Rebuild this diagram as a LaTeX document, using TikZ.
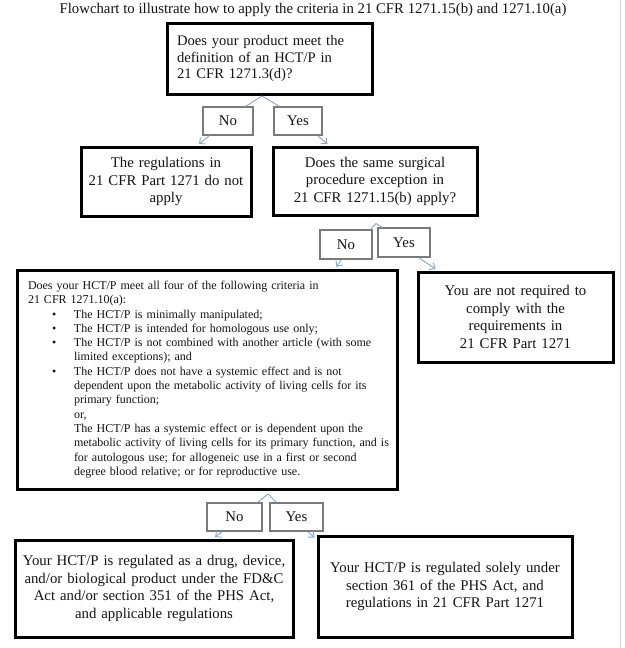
\documentclass[tikz,border=0pt]{standalone}
\usepackage{fontspec}
\setmainfont{Liberation Serif}
\usetikzlibrary{arrows.meta,calc}
\definecolor{conncol}{HTML}{86A4D6}
\definecolor{lblcol}{HTML}{7A7A7A}
\definecolor{txtcol}{HTML}{141414}
\definecolor{edgecol}{HTML}{D4D4D4}
\begin{document}
\begin{tikzpicture}[x=1pt,y=-1pt,
  mainbox/.style={draw=black, line width=3pt, fill=white, inner sep=0pt, text=txtcol,
    font=\fontsize{14.8}{17.5}\selectfont},
  lbl/.style={draw=lblcol, line width=1.1pt, fill=white, inner sep=0pt, text=txtcol,
    font=\fontsize{14.8}{17}\selectfont},
  conn/.style={draw=conncol, line width=0.9pt},
  arr/.style={conn, -{Straight Barb[length=4.5pt,width=8pt]}}]
\useasboundingbox (0,0) rectangle (624,648);
\fill[white] (0,0) rectangle (624,648);
\draw[edgecol, line width=0.8pt] (620.5,0) -- (620.5,648);

\node[text=txtcol, font=\fontsize{14.8}{17}\selectfont] (title) at (313,10)
  {Flowchart to illustrate how to apply the criteria in 21 CFR 1271.15(b) and 1271.10(a)};

\node[mainbox, minimum width=205, minimum height=71, text width=185, align=left,
  font=\fontsize{14.6}{16.5}\selectfont] (b1) at (269.5,58.5)
  {Does your product meet the\\definition of an HCT/P in\\21 CFR 1271.3(d)?};

\node[lbl, minimum width=50, minimum height=28] (no1) at (228,121) {No};
\node[lbl, minimum width=48, minimum height=28] (yes1) at (298,121) {Yes};

\node[mainbox, minimum width=170, minimum height=69, text width=165, align=center] (b2) at (166,181.5)
  {The regulations in\\21 CFR Part 1271 do not\\apply};
\node[mainbox, minimum width=204, minimum height=68, text width=198, align=center] (b3) at (375,181)
  {Does the same surgical\\procedure exception in\\21 CFR 1271.15(b) apply?};

\node[lbl, minimum width=52, minimum height=29] (no2) at (346,244.5) {No};
\node[lbl, minimum width=52, minimum height=29] (yes2) at (404,242.5) {Yes};

\node[mainbox, minimum width=380, minimum height=219, text width=358, align=left,
  font=\fontsize{12}{14.3}\selectfont] (b4) at (207,379.5)
  {\mbox{Does your HCT/P meet all four of the following criteria in}\\
   \mbox{21 CFR 1271.10(a):}\\
   \mbox{\hspace*{24pt}\makebox[22pt][l]{•}The HCT/P is minimally manipulated;}\\
   \mbox{\hspace*{24pt}\makebox[22pt][l]{•}The HCT/P is intended for homologous use only;}\\
   \mbox{\hspace*{24pt}\makebox[22pt][l]{•}The HCT/P is not combined with another article (with some}\\
   \mbox{\hspace*{46pt}limited exceptions); and}\\
   \mbox{\hspace*{24pt}\makebox[22pt][l]{•}The HCT/P does not have a systemic effect and is not}\\
   \mbox{\hspace*{46pt}dependent upon the metabolic activity of living cells for its}\\
   \mbox{\hspace*{46pt}primary function;}\\
   \mbox{\hspace*{46pt}or,}\\
   \mbox{\hspace*{46pt}The HCT/P has a systemic effect or is dependent upon the}\\
   \mbox{\hspace*{46pt}metabolic activity of living cells for its primary function, and is}\\
   \mbox{\hspace*{46pt}for autologous use; for allogeneic use in a first or second}\\
   \mbox{\hspace*{46pt}degree blood relative; or for reproductive use.}};

\node[mainbox, minimum width=195, minimum height=90, text width=188, align=center] (b5) at (515.5,317)
  {You are not required to\\comply with the\\requirements in\\21 CFR Part 1271};

\node[lbl, minimum width=55, minimum height=28] (no3) at (234.5,517) {No};
\node[lbl, minimum width=53, minimum height=28] (yes3) at (296.5,517) {Yes};

\node[mainbox, minimum width=278, minimum height=97, text width=270, align=center] (b6) at (154,588.5)
  {Your HCT/P is regulated as a drug, device,\\and/or biological product under the FD\&C\\Act and/or section 351 of the PHS Act,\\and applicable regulations};
\node[mainbox, minimum width=254, minimum height=101, text width=246, align=center] (b7) at (445,586.5)
  {Your HCT/P is regulated solely under\\section 361 of the PHS Act, and\\regulations in 21 CFR Part 1271};

% connectors, level 1
\coordinate (ap1) at ($(b1.south)+(-7.5,0.5)$);
\draw[conn] (ap1) -- ($(no1.north east)+(-8,0)$);
\draw[conn] (ap1) -- ($(yes1.north west)+(6,0)$);
\draw[arr] ($(no1.south west)+(7,0)$) -- ($(b2.north)+(33,-1.5)$);
\draw[arr] ($(yes1.south east)+(-5,0)$) -- ($(b3.north west)+(56,-1.5)$);

% connectors, level 2
\coordinate (ap2) at ($(b3.south)+(1,7)$);
\draw[conn] (ap2) -- ($(no2.north east)+(-2,0)$);
\draw[conn] (ap2) -- ($(yes2.north west)+(5,0)$);
\draw[arr] ($(no2.south west)+(22,0)$) -- ($(b4.north east)+(-62,-1.5)$);
\draw[arr] ($(yes2.south east)+(-12,0)$) -- ($(b5.north west)+(19,-1.5)$);

% connectors, level 3
\coordinate (ap3) at ($(b4.south)+(61,3.5)$);
\draw[conn] (ap3) -- ($(no3.north east)+(-5,0)$);
\draw[conn] (ap3) -- ($(yes3.north west)+(7,0)$);
\draw[arr] ($(no3.south west)+(16,0)$) -- ($(b6.north)+(61,-1.5)$);
\draw[arr] ($(yes3.south east)+(-16,0)$) -- ($(b7.north west)+(-2,3)$);
\end{tikzpicture}
\end{document}
